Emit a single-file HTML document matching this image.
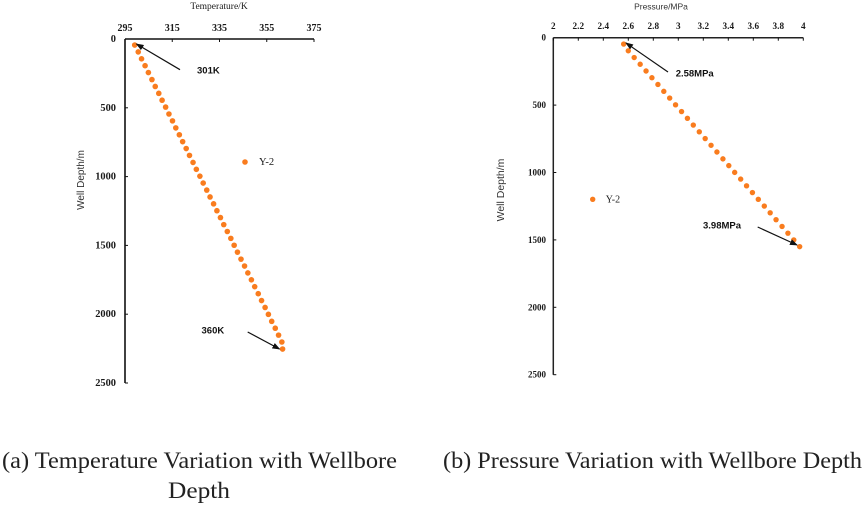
<!DOCTYPE html>
<html lang="en">
<head>
<meta charset="utf-8">
<title>Temperature and Pressure Variation with Wellbore Depth</title>
<style>
html,body{margin:0;padding:0;background:#fff;}
#figure{display:block;width:865px;height:505px;}
#charts{filter:blur(0.35px);}
.ser{font-family:"Liberation Serif",serif;fill:#1a1a1a;}
.san{font-family:"Liberation Sans",sans-serif;fill:#333;}
.note{font-family:"Liberation Sans",sans-serif;font-weight:bold;font-size:9.5px;fill:#111;}
.cap{font-family:"Liberation Serif",serif;font-size:23.5px;fill:#222;}
</style>
</head>
<body>
<svg id="figure" xmlns="http://www.w3.org/2000/svg" width="865" height="505" viewBox="0 0 865 505">
  <defs>
    <marker id="arrowhead" markerWidth="8" markerHeight="6" refX="7" refY="3" orient="auto" markerUnits="userSpaceOnUse">
      <path d="M0,0 L8,3 L0,6 Z" fill="#111"></path>
    </marker>
  </defs>
  <g id="charts"></g>
  <text class="cap" x="2" y="468" textLength="395" lengthAdjust="spacingAndGlyphs">(a) Temperature Variation with Wellbore</text>
  <text class="cap" x="168" y="498" textLength="62" lengthAdjust="spacingAndGlyphs">Depth</text>
  <text class="cap" x="443" y="468" textLength="419" lengthAdjust="spacingAndGlyphs">(b) Pressure Variation with Wellbore Depth</text>
</svg>
<script>
const depthTicks = [0, 500, 1000, 1500, 2000, 2500];
const tempTicks = [295, 315, 335, 355, 375];
const pressureTicks = [2, 2.2, 2.4, 2.6, 2.8, 3, 3.2, 3.4, 3.6, 3.8, 4];
const temperatureK = [299.1, 300.6, 302.0, 303.5, 304.9, 306.4, 307.8, 309.3, 310.7, 312.2, 313.6, 315.1, 316.5, 318.0, 319.4, 320.9, 322.3, 323.8, 325.2, 326.7, 328.1, 329.6, 331.0, 332.5, 333.9, 335.4, 336.8, 338.3, 339.8, 341.2, 342.6, 344.1, 345.6, 347.0, 348.5, 349.9, 351.4, 352.8, 354.3, 355.7, 357.1, 358.6, 360.0, 361.4, 361.7];
const temperatureDepth = [44, 94, 144, 194, 244, 295, 345, 395, 445, 495, 545, 595, 646, 696, 746, 796, 846, 897, 947, 997, 1047, 1098, 1148, 1198, 1248, 1298, 1349, 1399, 1449, 1499, 1549, 1600, 1650, 1700, 1750, 1800, 1851, 1901, 1951, 2001, 2052, 2102, 2152, 2202, 2253];
const pressureMPa = [2.563, 2.600, 2.647, 2.695, 2.742, 2.789, 2.837, 2.884, 2.931, 2.978, 3.026, 3.073, 3.120, 3.168, 3.215, 3.262, 3.309, 3.357, 3.404, 3.451, 3.499, 3.546, 3.593, 3.640, 3.688, 3.735, 3.782, 3.830, 3.877, 3.924, 3.971];
const pressureDepth = [47, 97, 147, 197, 247, 297, 347, 398, 448, 498, 548, 598, 648, 698, 748, 798, 848, 899, 949, 999, 1049, 1099, 1149, 1199, 1249, 1299, 1350, 1400, 1450, 1500, 1550];

const NS = 'http://www.w3.org/2000/svg';
const root = document.getElementById('charts');
function make(tag, attrs, parent, text) {
  const el = document.createElementNS(NS, tag);
  for (const k in attrs) el.setAttribute(k, attrs[k]);
  if (text !== undefined) el.textContent = text;
  parent.appendChild(el);
  return el;
}

/* ---------- panel (a) ---------- */
const tempX = v => 125 + (v - 295) / (375 - 295) * 189;
const tempY = v => 39 + v / 2500 * 344;
const panelA = make('g', {}, root);



const aXAxis = make('line', {x1: tempX(295), y1: tempY(0), x2: tempX(375), y2: tempY(0), stroke: '#111', 'stroke-width': 1.6}, panelA);


const aYAxis = make('line', {x1: tempX(295), y1: tempY(0), x2: tempX(295), y2: tempY(2500), stroke: '#111', 'stroke-width': 1.6}, panelA);



tempTicks.forEach(t => {
  make('line', {x1: tempX(t), y1: tempY(0), x2: tempX(t), y2: tempY(0) + 3, stroke: '#111', 'stroke-width': 1}, panelA);
  const label = make('text', {class: 'ser', x: tempX(t), y: 31, 'text-anchor': 'middle', 'font-size': 10, 'font-weight': 'bold'}, panelA, t);
  
  
});
depthTicks.forEach(d => {
  if (d > 0) make('line', {x1: tempX(295), y1: tempY(d), x2: tempX(295) + 3, y2: tempY(d), stroke: '#111', 'stroke-width': 1}, panelA);
  const label = make('text', {class: 'ser', x: 116, y: tempY(d) + 3, 'text-anchor': 'end', 'font-size': 10.4, 'font-weight': 'bold'}, panelA, d);
  
  
});

temperatureK.forEach((t, i) => {
  const dot = make('circle', {cx: tempX(t), cy: tempY(temperatureDepth[i]), r: 2.8, fill: '#f97c1e'}, panelA);
  
  
});

const aXTitle = make('text', {class: 'ser', x: 219, y: 9, 'text-anchor': 'middle', 'font-size': 9.5}, panelA, 'Temperature/K');


const aYTitle = make('text', {class: 'san', x: 0, y: 0, 'text-anchor': 'middle', 'font-size': 10, transform: 'translate(84,180) rotate(-90)'}, panelA, 'Well Depth/m');



const aLegendDot = make('circle', {cx: 245, cy: 162, r: 2.8, fill: '#f97c1e'}, panelA);


const aLegendText = make('text', {class: 'ser', x: 259, y: 165, 'font-size': 10.5}, panelA, 'Y-2');



const note301 = make('text', {class: 'note', x: 197, y: 73.5}, panelA, '301K');


const arrow301 = make('line', {x1: 180, y1: 69.7, x2: 136.5, y2: 44, stroke: '#111', 'stroke-width': 1.2, 'marker-end': 'url(#arrowhead)'}, panelA);


const note360 = make('text', {class: 'note', x: 201.5, y: 333.5}, panelA, '360K');


const arrow360 = make('line', {x1: 247.7, y1: 332, x2: 279.5, y2: 349, stroke: '#111', 'stroke-width': 1.2, 'marker-end': 'url(#arrowhead)'}, panelA);



/* ---------- panel (b) ---------- */
const presX = v => 553.3 + (v - 2) / (4 - 2) * 250;
const presY = v => 37.7 + v / 2500 * 337;
const panelB = make('g', {}, root);



const bXAxis = make('line', {x1: presX(2), y1: presY(0), x2: presX(4), y2: presY(0), stroke: '#222', 'stroke-width': 1.5}, panelB);


const bYAxis = make('line', {x1: presX(2), y1: presY(0), x2: presX(2), y2: presY(2500), stroke: '#222', 'stroke-width': 1.5}, panelB);



pressureTicks.forEach(t => {
  make('line', {x1: presX(t), y1: presY(0), x2: presX(t), y2: presY(0) + 3, stroke: '#111', 'stroke-width': 1}, panelB);
  const label = make('text', {class: 'ser', x: presX(t), y: 29, 'text-anchor': 'middle', 'font-size': 9.2, 'font-weight': 'bold'}, panelB, t);
  
  
});
depthTicks.forEach(d => {
  if (d > 0) make('line', {x1: presX(2), y1: presY(d), x2: presX(2) + 3, y2: presY(d), stroke: '#111', 'stroke-width': 1}, panelB);
  const label = make('text', {class: 'ser', x: 546, y: presY(d) + 3, 'text-anchor': 'end', 'font-size': 9, 'font-weight': 'bold'}, panelB, d);
  
  
});

pressureMPa.forEach((p, i) => {
  const dot = make('circle', {cx: presX(p), cy: presY(pressureDepth[i]), r: 2.7, fill: '#f97c1e'}, panelB);
  
  
});

const bXTitle = make('text', {class: 'san', x: 661, y: 9.5, 'text-anchor': 'middle', 'font-size': 8.5}, panelB, 'Pressure/MPa');


const bYTitle = make('text', {class: 'san', x: 0, y: 0, 'text-anchor': 'middle', 'font-size': 10.5, transform: 'translate(504,190) rotate(-90)'}, panelB, 'Well Depth/m');



const bLegendDot = make('circle', {cx: 592.7, cy: 199.3, r: 2.7, fill: '#f97c1e'}, panelB);


const bLegendText = make('text', {class: 'ser', x: 605.7, y: 202.5, 'font-size': 10}, panelB, 'Y-2');



const note258 = make('text', {class: 'note', x: 675.7, y: 76.5}, panelB, '2.58MPa');


const arrow258 = make('line', {x1: 668, y1: 72, x2: 626, y2: 43, stroke: '#111', 'stroke-width': 1.2, 'marker-end': 'url(#arrowhead)'}, panelB);


const note398 = make('text', {class: 'note', x: 703, y: 228.5}, panelB, '3.98MPa');


const arrow398 = make('line', {x1: 757.7, y1: 227, x2: 797, y2: 245, stroke: '#111', 'stroke-width': 1.2, 'marker-end': 'url(#arrowhead)'}, panelB);


</script>
</body>
</html>
